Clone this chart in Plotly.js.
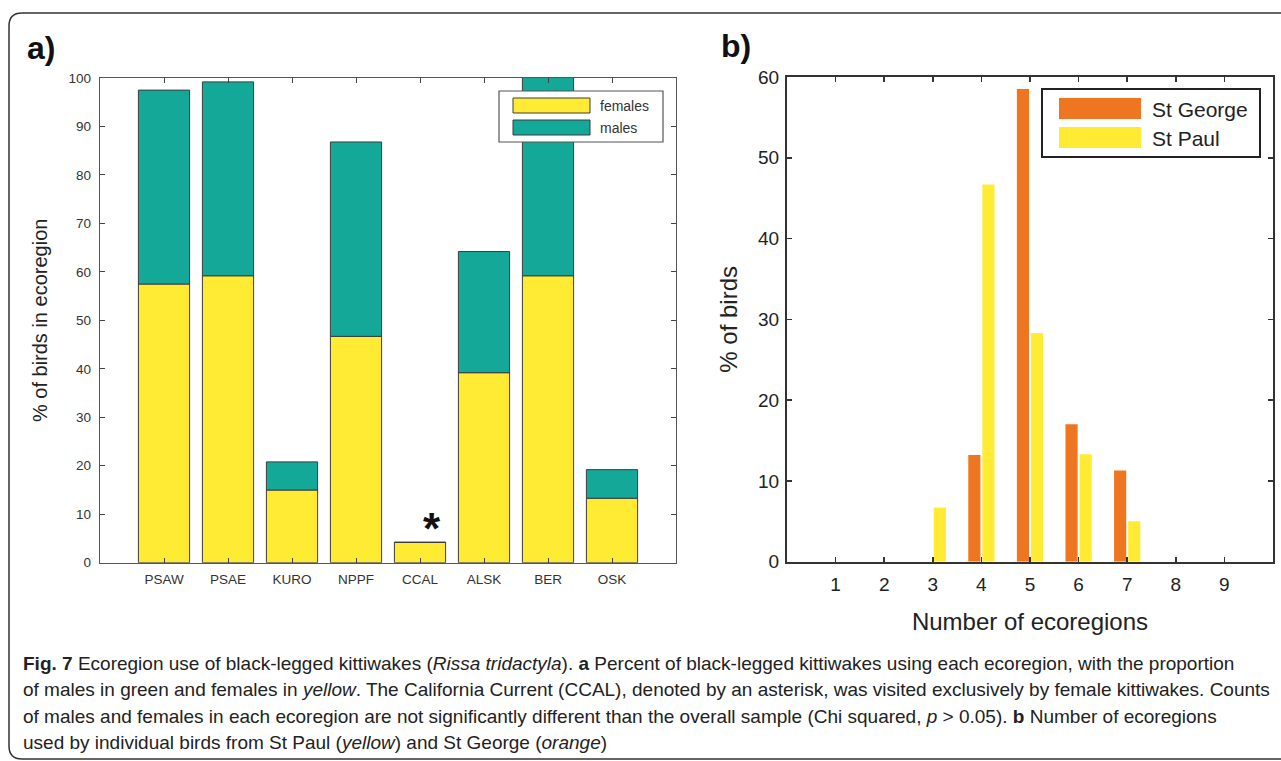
<!DOCTYPE html>
<html>
<head>
<meta charset="utf-8">
<script src="https://cdn.plot.ly/plotly-3.0.1.min.js"></script>
<style>
  html, body { margin: 0; padding: 0; background: #ffffff; }
  #chart { width: 1281px; height: 761px; }
</style>
</head>
<body>
<div id="chart"></div>
<script>
// ---------- data: panel a ----------
const regions = ["PSAW", "PSAE", "KURO", "NPPF", "CCAL", "ALSK", "BER", "OSK"];
const females = [57.5, 59.2, 15.0, 46.7, 4.2, 39.2, 59.2, 13.3];
const males   = [40.0, 40.0, 5.8, 40.1, 0.0, 25.0, 42.0, 5.9];

// ---------- data: panel b ----------
const nEcoregions = [1, 2, 3, 4, 5, 6, 7, 8, 9];
const stGeorge = [0, 0, 0, 13.2, 58.5, 17.0, 11.3, 0, 0];
const stPaul   = [0, 0, 6.7, 46.7, 28.3, 13.3, 5.0, 0, 0];

const captionLines = [
  "<b>Fig. 7</b> Ecoregion use of black-legged kittiwakes (<i>Rissa tridactyla</i>). <b>a</b> Percent of black-legged kittiwakes using each ecoregion, with the proportion",
  "of males in green and females in <i>yellow</i>. The California Current (CCAL), denoted by an asterisk, was visited exclusively by female kittiwakes. Counts",
  "of males and females in each ecoregion are not significantly different than the overall sample (Chi squared, <i>p</i> &gt; 0.05). <b>b</b> Number of ecoregions",
  "used by individual birds from St Paul (<i>yellow</i>) and St George (<i>orange</i>)"
];

// ---------- helpers (pixel -> paper) ----------
const W = 1281, H = 761;
const px = v => v / W;
const py = v => 1 - v / H;

const YELLOW = "#FFEB33", TEAL = "#13A898", ORANGE = "#EE7621";
const SANS = "Liberation Sans, Arial, Helvetica, sans-serif";

const traces = [
  { type: "bar", x: regions, y: females, width: 0.8, name: "females",
    marker: { color: YELLOW, line: { color: "#3c3c3c", width: 1 } },
    xaxis: "x", yaxis: "y", hoverinfo: "x+y+name" },
  { type: "bar", x: regions, y: males, base: females, width: 0.8, name: "males",
    marker: { color: TEAL, line: { color: "#3c3c3c", width: 1 } },
    xaxis: "x", yaxis: "y", hoverinfo: "x+y+name" },
  { type: "bar", x: nEcoregions, y: stGeorge, width: 0.25, offset: -0.27, name: "St George",
    marker: { color: ORANGE, line: { width: 0 } },
    xaxis: "x2", yaxis: "y2" },
  { type: "bar", x: nEcoregions, y: stPaul, width: 0.25, offset: 0.02, name: "St Paul",
    marker: { color: YELLOW, line: { width: 0 } },
    xaxis: "x2", yaxis: "y2" }
];

const axA = {
  showline: true, mirror: "allticks", ticks: "inside", ticklen: 5, tickwidth: 1,
  tickcolor: "#444", linecolor: "#555", linewidth: 1.2, showgrid: false, zeroline: false,
  tickfont: { family: SANS, size: 13.5, color: "#333" }, fixedrange: true
};
const axB = {
  showline: true, mirror: "allticks", ticks: "inside", ticklen: 5, tickwidth: 1.5,
  tickcolor: "#333", linecolor: "#333", linewidth: 2, showgrid: false, zeroline: false,
  tickfont: { family: SANS, size: 19, color: "#222" }, fixedrange: true
};

const shapes = [
  // outer rounded frame
  { type: "path", xref: "paper", yref: "paper",
    path: `M ${px(1295)},${py(13)} L ${px(22)},${py(13)} Q ${px(9)},${py(13)} ${px(9)},${py(26)} L ${px(9)},${py(746)} Q ${px(9)},${py(759)} ${px(22)},${py(759)} L ${px(1295)},${py(759)}`,
    line: { color: "#333", width: 1.5 } },
  // legend a
  { type: "rect", xref: "paper", yref: "paper", x0: px(499), x1: px(663), y0: py(91), y1: py(142),
    line: { color: "#555", width: 1.2 }, fillcolor: "#fff" },
  { type: "rect", xref: "paper", yref: "paper", x0: px(513), x1: px(590), y0: py(98), y1: py(113),
    line: { color: "#3c3c3c", width: 1 }, fillcolor: YELLOW },
  { type: "rect", xref: "paper", yref: "paper", x0: px(513), x1: px(590), y0: py(120), y1: py(135),
    line: { color: "#3c3c3c", width: 1 }, fillcolor: TEAL },
  // legend b
  { type: "rect", xref: "paper", yref: "paper", x0: px(1042), x1: px(1260), y0: py(89), y1: py(157),
    line: { color: "#222", width: 2 }, fillcolor: "#fff" },
  { type: "rect", xref: "paper", yref: "paper", x0: px(1059), x1: px(1141), y0: py(98), y1: py(119),
    line: { width: 0 }, fillcolor: ORANGE },
  { type: "rect", xref: "paper", yref: "paper", x0: px(1059), x1: px(1141), y0: py(127), y1: py(148),
    line: { width: 0 }, fillcolor: YELLOW }
];

const annotations = [
  { text: "<b>a)</b>", xref: "paper", yref: "paper", x: px(25), y: py(48), xanchor: "left", yanchor: "middle",
    showarrow: false, font: { family: SANS, size: 32, color: "#111" } },
  { text: "<b>b)</b>", xref: "paper", yref: "paper", x: px(719), y: py(46), xanchor: "left", yanchor: "middle",
    showarrow: false, font: { family: SANS, size: 32, color: "#111" } },
  // asterisk over CCAL
  { text: "<b>*</b>", xref: "x", yref: "y", x: 4.19, y: 8.2, xanchor: "center", yanchor: "middle",
    yshift: -6, showarrow: false, font: { family: SANS, size: 44, color: "#111" } },
  // legend a labels
  { text: "females", xref: "paper", yref: "paper", x: px(598), y: py(106), xanchor: "left", yanchor: "middle",
    showarrow: false, font: { family: SANS, size: 14, color: "#333" } },
  { text: "males", xref: "paper", yref: "paper", x: px(598), y: py(128), xanchor: "left", yanchor: "middle",
    showarrow: false, font: { family: SANS, size: 14, color: "#333" } },
  // legend b labels
  { text: "St George", xref: "paper", yref: "paper", x: px(1150), y: py(109), xanchor: "left", yanchor: "middle",
    showarrow: false, font: { family: SANS, size: 21, color: "#222" } },
  { text: "St Paul", xref: "paper", yref: "paper", x: px(1150), y: py(138), xanchor: "left", yanchor: "middle",
    showarrow: false, font: { family: SANS, size: 21, color: "#222" } }
];

captionLines.forEach((t, i) => {
  annotations.push({ text: t, xref: "paper", yref: "paper", x: px(21), y: py(663 + i * 26.5),
    xanchor: "left", yanchor: "middle", showarrow: false, align: "left",
    font: { family: SANS, size: 19, color: "#222" } });
});

const layout = {
  width: W, height: H,
  margin: { l: 0, r: 0, t: 0, b: 0, pad: 0 },
  paper_bgcolor: "#ffffff", plot_bgcolor: "#ffffff",
  barmode: "overlay",
  showlegend: false,
  font: { family: SANS, color: "#222" },
  xaxis: Object.assign({}, axA, {
    domain: [px(100), px(676)], anchor: "y", type: "category",
    range: [-1, 8], ticklabelstandoff: 4
  }),
  yaxis: Object.assign({}, axA, {
    domain: [py(562.7), py(78)], anchor: "x", range: [0, 100], dtick: 10,
    ticklabelstandoff: 5,
    title: { text: "% of birds in ecoregion", standoff: 15, font: { family: SANS, size: 20, color: "#222" } }
  }),
  xaxis2: Object.assign({}, axB, {
    domain: [px(787), px(1273)], anchor: "y2", range: [0, 10],
    tickvals: nEcoregions, ticklabelstandoff: 4,
    title: { text: "Number of ecoregions", standoff: 20, font: { family: SANS, size: 24, color: "#222" } }
  }),
  yaxis2: Object.assign({}, axB, {
    domain: [py(561.7), py(77)], anchor: "x2", range: [0, 60], dtick: 10,
    ticklabelstandoff: 2,
    title: { text: "% of birds", standoff: 14, font: { family: SANS, size: 24, color: "#222" } }
  }),
  shapes: shapes,
  annotations: annotations
};

Plotly.newPlot("chart", traces, layout, { displayModeBar: false, staticPlot: true });
</script>
</body>
</html>
